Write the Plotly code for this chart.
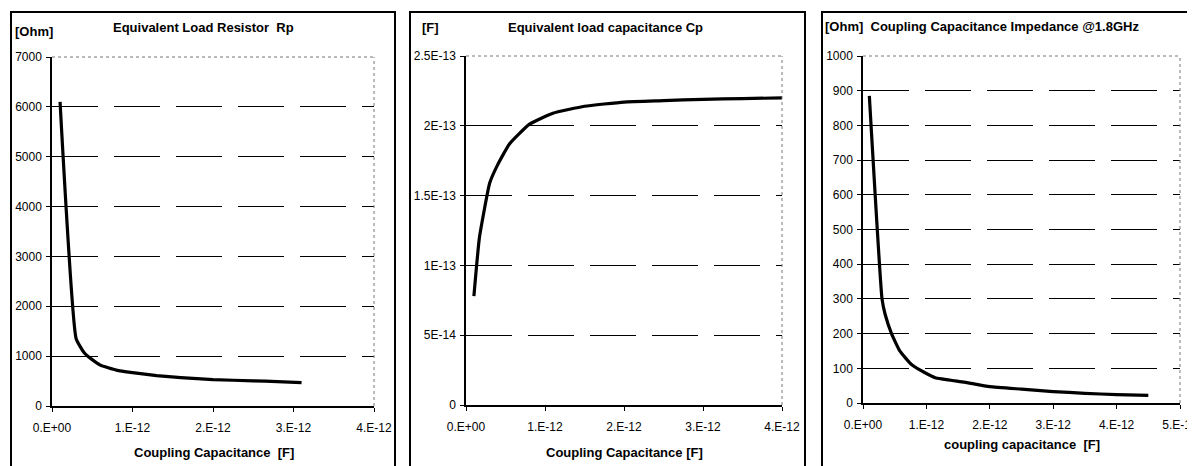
import plotly.graph_objects as go

W, H = 1195, 466
OFF = 8  # page body margin of the html page

# ---------------- data ----------------
cap_rp = [0.1e-12, 0.3e-12, 0.4e-12, 0.5e-12, 0.6e-12, 0.8e-12, 1.0e-12, 1.3e-12,
          1.6e-12, 2.0e-12, 2.5e-12, 2.8e-12, 3.1e-12]
rp_ohm = [6100, 1350, 1070, 930, 820, 720, 670, 610, 570, 530, 505, 490, 470]

cap_cp = [0.1e-12, 0.17e-12, 0.3e-12, 0.4e-12, 0.55e-12, 0.8e-12, 1.1e-12, 1.5e-12,
          2.0e-12, 2.5e-12, 3.0e-12, 3.5e-12, 4.0e-12]
cp_f = [7.8e-14, 12.0e-14, 15.9e-14, 17.2e-14, 18.7e-14, 20.1e-14, 20.9e-14, 21.4e-14,
        21.7e-14, 21.8e-14, 21.9e-14, 21.95e-14, 22.0e-14]

cap_z = [0.1e-12, 0.3e-12, 0.35e-12, 0.45e-12, 0.58e-12, 0.77e-12, 1.0e-12, 1.14e-12,
         1.6e-12, 2.0e-12, 2.5e-12, 3.0e-12, 3.5e-12, 4.0e-12, 4.5e-12]
z_ohm = [885, 300, 255, 200, 150, 110, 85, 73, 60, 47, 40, 33, 28, 24, 22]

# tick labels
x4_vals = [0, 1e-12, 2e-12, 3e-12, 4e-12]
x4_text = ["0.E+00", "1.E-12", "2.E-12", "3.E-12", "4.E-12"]
x5_vals = [0, 1e-12, 2e-12, 3e-12, 4e-12, 5e-12]
x5_text = ["0.E+00", "1.E-12", "2.E-12", "3.E-12", "4.E-12", "5.E-12"]
y1_vals = [0, 1000, 2000, 3000, 4000, 5000, 6000, 7000]
y1_text = ["0", "1000", "2000", "3000", "4000", "5000", "6000", "7000"]
y2_vals = [0, 5e-14, 1e-13, 1.5e-13, 2e-13, 2.5e-13]
y2_text = ["0", "5E-14", "1E-13", "1.5E-13", "2E-13", "2.5E-13"]
y3_vals = [0, 100, 200, 300, 400, 500, 600, 700, 800, 900, 1000]
y3_text = ["0", "100", "200", "300", "400", "500", "600", "700", "800", "900", "1000"]

titles = ["Equivalent Load Resistor  Rp", "Equivalent load capacitance Cp",
          "[Ohm]  Coupling Capacitance Impedance @1.8GHz"]
units = ["[Ohm]", "[F]"]
xtitles = ["Coupling Capacitance  [F]", "Coupling Capacitance [F]",
           "coupling capacitance  [F]"]

# ---------------- layout helpers (screen pixel -> paper fraction) ----------------
def fx(x):
    return (x - OFF) / W

def fy(y):
    return 1 - (y - OFF) / H

FONT = "Liberation Sans, Arial, sans-serif"

fig = go.Figure()

panels = [
    dict(xd=(52, 374), yd=(57, 406), xr=[0, 4e-12], yr=[0, 7000],
         xv=x4_vals, xt=x4_text, yv=y1_vals, yt=y1_text, x=cap_rp, y=rp_ohm),
    dict(xd=(466, 782), yd=(56, 405), xr=[0, 4e-12], yr=[0, 2.5e-13],
         xv=x4_vals, xt=x4_text, yv=y2_vals, yt=y2_text, x=cap_cp, y=cp_f),
    dict(xd=(863, 1180), yd=(56, 403), xr=[0, 5e-12], yr=[0, 1000],
         xv=x5_vals, xt=x5_text, yv=y3_vals, yt=y3_text, x=cap_z, y=z_ohm),
]

for i, p in enumerate(panels, start=1):
    sfx = "" if i == 1 else str(i)
    fig.add_trace(go.Scatter(x=p["x"], y=p["y"], mode="lines",
                             line=dict(color="black", width=3.2, shape="spline", smoothing=0.4),
                             xaxis="x" + sfx, yaxis="y" + sfx, showlegend=False,
                             hoverinfo="skip"))
    fig.layout["xaxis" + sfx] = dict(
        domain=[fx(p["xd"][0]), fx(p["xd"][1])], range=p["xr"], anchor="y" + sfx,
        tickvals=p["xv"], ticktext=p["xt"], ticks="outside", ticklen=4, tickcolor="black",
        showline=True, linecolor="black", linewidth=1.5, showgrid=False, zeroline=False,
        tickfont=dict(family=FONT, size=12, color="black"), ticklabelstandoff=6,
        automargin=False, fixedrange=True)
    fig.layout["yaxis" + sfx] = dict(
        domain=[fy(p["yd"][1]), fy(p["yd"][0])], range=p["yr"], anchor="x" + sfx,
        tickvals=p["yv"], ticktext=p["yt"], ticks="outside", ticklen=4, tickcolor="black",
        showline=True, linecolor="black", linewidth=1.5, showgrid=True,
        gridcolor="black", gridwidth=1, griddash="46px,16px", zeroline=False,
        tickfont=dict(family=FONT, size=12, color="black"), ticklabelstandoff=2,
        automargin=False, fixedrange=True)
    # dotted plot-area border (top and right)
    xr = "x" + sfx + " domain"
    yr = "y" + sfx + " domain"
    fig.add_shape(type="line", xref=xr, yref=yr, x0=0, x1=1, y0=1, y1=1,
                  line=dict(color="#777", width=1, dash="dot"))
    fig.add_shape(type="line", xref=xr, yref=yr, x0=1, x1=1, y0=0, y1=1,
                  line=dict(color="#777", width=1, dash="dot"))

# panel frames
for (x0, x1) in [(11, 395), (410, 805), (822, 1215)]:
    fig.add_shape(type="rect", xref="paper", yref="paper",
                  x0=fx(x0), x1=fx(x1), y0=fy(490), y1=fy(12),
                  line=dict(color="black", width=2))

ann = []
tfont = dict(family=FONT, size=13, color="black")
# titles
ann.append(dict(x=fx(203), y=fy(28), text="<b>%s</b>" % titles[0], xanchor="center", yanchor="middle"))
ann.append(dict(x=fx(605), y=fy(27), text="<b>%s</b>" % titles[1], xanchor="center", yanchor="middle"))
ann.append(dict(x=fx(823), y=fy(26), text="<b>%s</b>" % titles[2], xanchor="left", yanchor="middle"))
ann.append(dict(x=fx(13), y=fy(31), text="<b>%s</b>" % units[0], xanchor="left", yanchor="middle"))
ann.append(dict(x=fx(420), y=fy(28), text="<b>%s</b>" % units[1], xanchor="left", yanchor="middle"))
# x axis titles
ann.append(dict(x=fx(214), y=fy(452), text="<b>%s</b>" % xtitles[0], xanchor="center", yanchor="middle"))
ann.append(dict(x=fx(624), y=fy(452), text="<b>%s</b>" % xtitles[1], xanchor="center", yanchor="middle"))
ann.append(dict(x=fx(1022), y=fy(444), text="<b>%s</b>" % xtitles[2], xanchor="center", yanchor="middle"))
for a in ann:
    a.update(xref="paper", yref="paper", showarrow=False, font=tfont)

fig.update_layout(width=W, height=H, margin=dict(l=0, r=0, t=0, b=0, pad=0, autoexpand=False),
                  paper_bgcolor="white", plot_bgcolor="white", annotations=ann,
                  font=dict(family=FONT, color="black"))

fig.write_html("out.html")
